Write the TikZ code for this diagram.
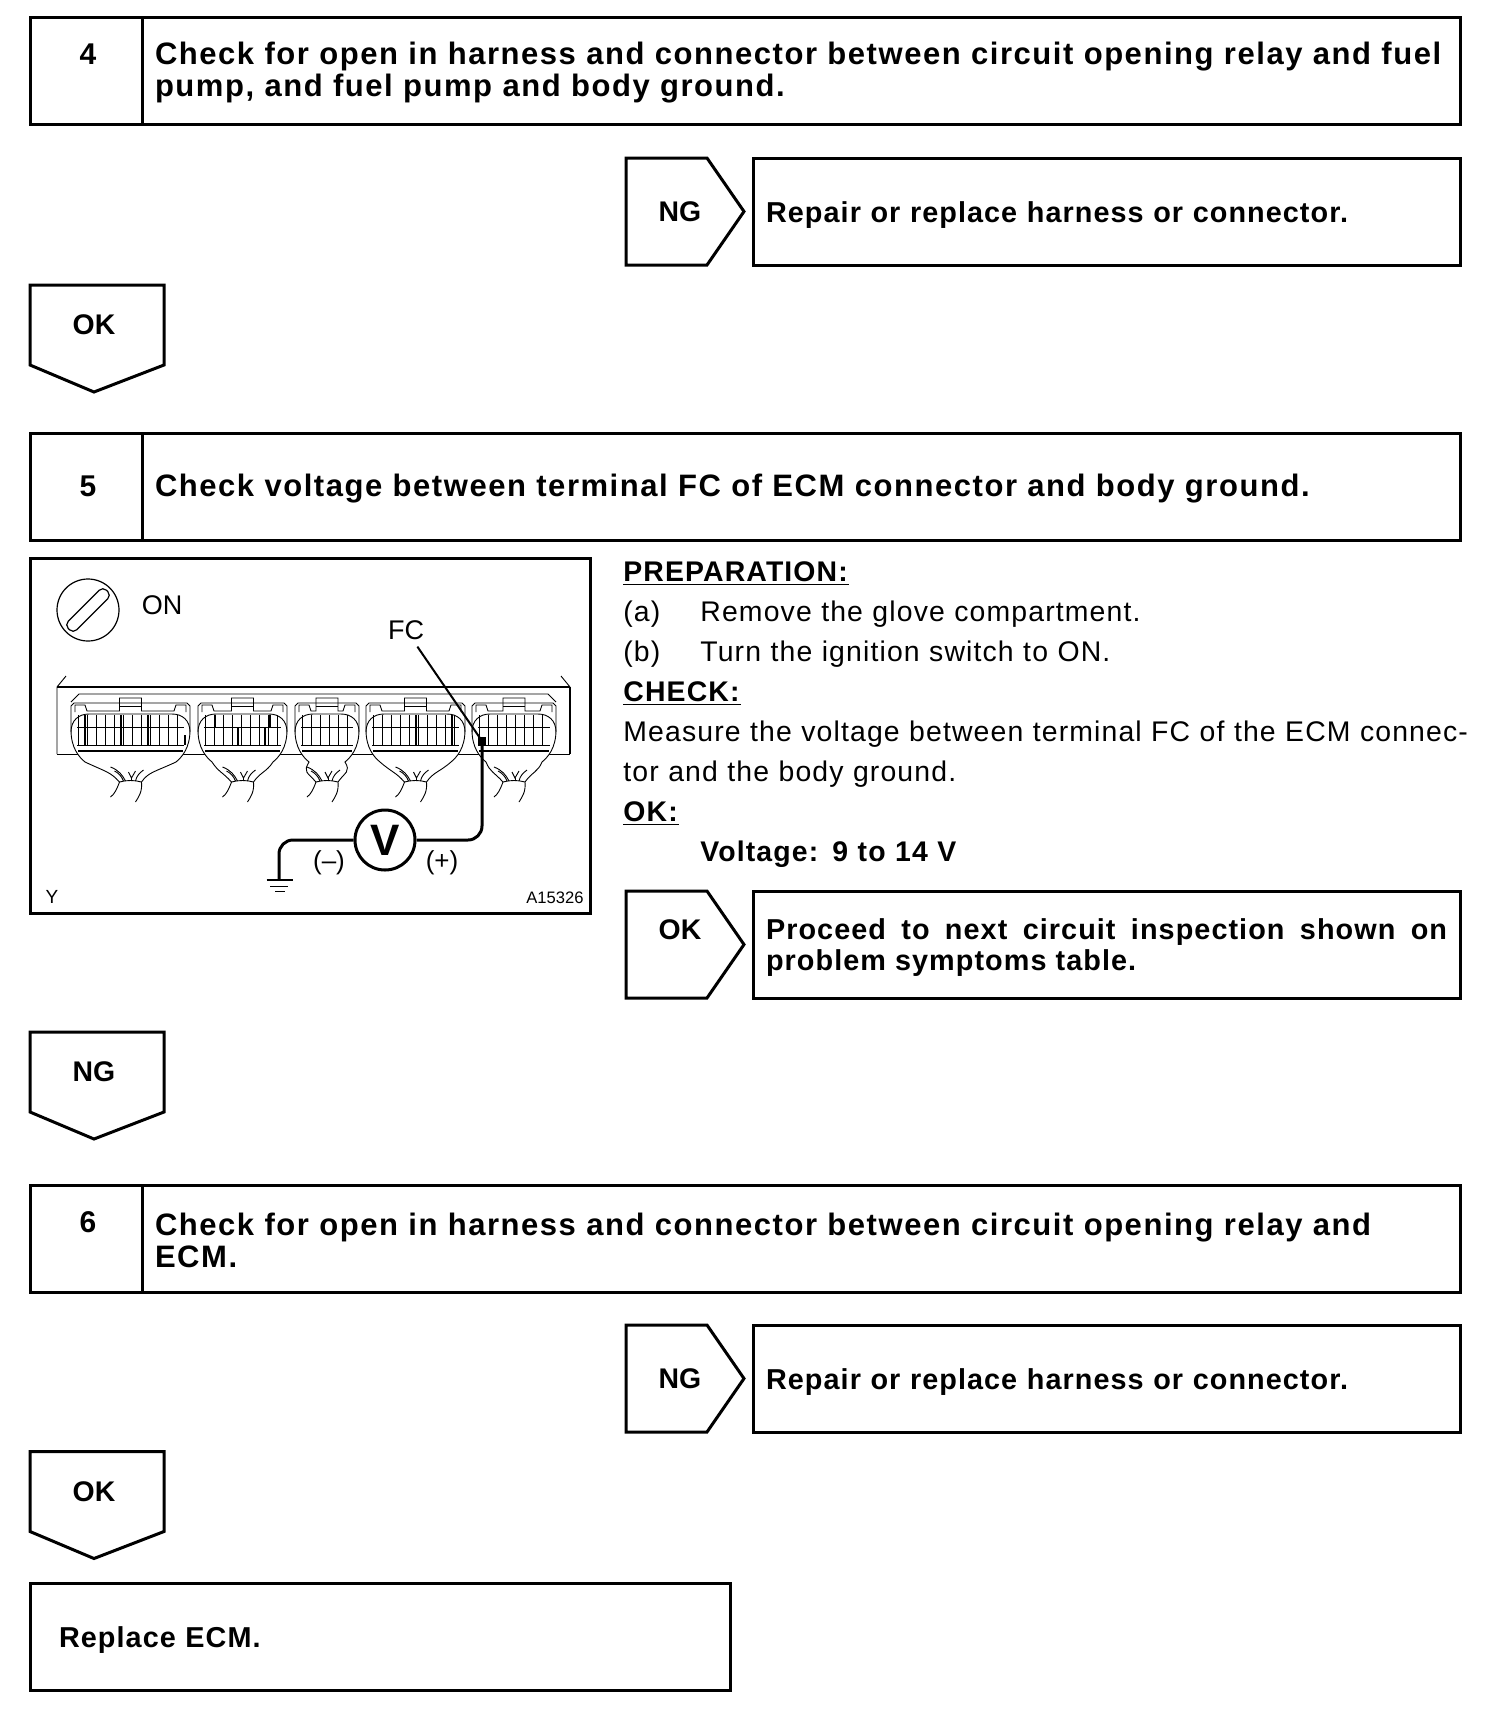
\documentclass[tikz,border=0pt]{standalone}
\usepackage{fontspec}
\setmainfont{Liberation Sans}
\newfontfamily\titlefont[LetterSpace=5.0]{Liberation Sans}
\newfontfamily\resultfont[LetterSpace=3.7]{Liberation Sans}
\newfontfamily\prepfont[LetterSpace=4.0]{Liberation Sans}
\usetikzlibrary{positioning}

\newcommand{\tagright}[1]{\draw[tagline] (#1.north west) -- ([xshift=-13.5pt]#1.north east) -- ([xshift=5pt]#1.east) -- ([xshift=-13.5pt]#1.south east) -- (#1.south west) -- cycle;}
\newcommand{\tagdown}[1]{\draw[tagline] (#1.north west) -- ([xshift=3pt]#1.north east) -- ([xshift=3pt]#1.south east) -- ([yshift=-13.5pt]#1.south) -- (#1.south west) -- cycle;}

\begin{document}
\begin{tikzpicture}[
  x=0.5pt, y=-0.5pt,
  numbox/.style={
    rectangle, draw, line width=1.5pt, minimum width=56pt, minimum height=53.5pt,
    inner sep=0pt, outer sep=0pt, align=center, font=\fontsize{15}{16}\selectfont\bfseries
  },
  titlebox/.style={
    rectangle, draw, line width=1.5pt, minimum width=659pt, minimum height=53.5pt,
    inner xsep=6.5pt, inner ysep=0pt, outer sep=0pt, text width=646pt, align=left,
    font=\titlefont\fontsize{15.5}{16}\selectfont\bfseries,
    execute at begin node={\vskip -2.4pt}
  },
  resultbox/.style={
    rectangle, draw, line width=1.5pt, minimum width=353.5pt, minimum height=53.5pt,
    inner xsep=6.5pt, inner ysep=0pt, outer sep=0pt, text width=340.5pt, align=left,
    font=\resultfont\fontsize{14.4}{15.4}\selectfont\bfseries,
    execute at begin node={\vskip -1.9pt}
  },
  sidetag/.style={
    rectangle, minimum width=54pt, minimum height=53.5pt, inner sep=0pt, outer sep=0pt,
    align=center, font=\fontsize{14.2}{15.4}\selectfont\bfseries
  },
  downtag/.style={
    rectangle, minimum width=64pt, minimum height=40pt, inner sep=0pt, outer sep=0pt,
    align=center, font=\fontsize{14.2}{15.4}\selectfont\bfseries
  },
  tagline/.style={line width=1.5pt, line join=miter},
  plugline/.style={line width=0.45pt},
  plugbold/.style={line width=1.2pt},
  wire/.style={line width=1.5pt, rounded corners=7pt},
]
  \useasboundingbox (0,0) rectangle (1504,1714);

  % Step 4
  \node[numbox, anchor=north west] (num4) at (30,17) {\hspace*{2pt}4\\~};
  \node[titlebox, right=0pt of num4] (title4) {Check for open in harness and connector between circuit opening relay and fuel\\pump, and fuel pump and body ground.};
  \node[resultbox, below left=17pt and 0pt of title4.south east] (res4) {Repair or replace harness or connector.};
  \node[sidetag, left=9.5pt of res4] (ng4) {NG};
  \node[downtag, below right=80.5pt and 0pt of num4.south west] (ok4) {OK};

  % Step 5
  \node[numbox, below right=34pt and 0pt of ok4.south west, minimum width=56pt] (num5) {\hspace*{2pt}5};
  \node[titlebox, right=0pt of num5] (title5) {Check voltage between terminal FC of ECM connector and body ground.};
  \node[rectangle, draw, line width=1.5pt, minimum width=280pt, minimum height=177.5pt, outer sep=0pt,
    below right=9pt and 0pt of num5.south west] (panel) {};
  \node[rectangle, inner sep=0pt, text width=430pt, align=left, font=\prepfont\fontsize{14.2}{20}\selectfont,
    below right=1.5pt and 16.5pt of panel.north east] (prep) {%
    \underline{\textbf{PREPARATION:}}\\
    \makebox[38.5pt][l]{(a)}Remove the glove compartment.\\
    \makebox[38.5pt][l]{(b)}Turn the ignition switch to ON.\\
    \underline{\textbf{CHECK:}}\\
    Measure the voltage between terminal FC of the ECM connec-\\
    tor and the body ground.\\
    \underline{\textbf{OK:}}\\
    \hspace*{38.5pt}\textbf{Voltage: 9 to 14 V}};
  \node[resultbox, below left=175.5pt and 0pt of title5.south east, align=justify] (res5) {Proceed to next circuit inspection shown on \mbox{problem} symptoms table.};
  \node[sidetag, left=9.5pt of res5] (ok5) {OK\\~};
  \node[downtag, below right=59.5pt and 0pt of panel.south west] (ng5) {NG};

  % Step 6
  \node[numbox, below right=36.5pt and 0pt of ng5.south west] (num6) {\hspace*{2pt}6\\~};
  \node[titlebox, right=0pt of num6] (title6) {Check for open in harness and connector between circuit opening relay and\\ECM.};
  \node[resultbox, below left=16.5pt and 0pt of title6.south east] (res6) {Repair or replace harness or connector.};
  \node[sidetag, left=9.5pt of res6] (ng6) {NG};
  \node[downtag, below right=79.75pt and 0pt of num6.south west] (ok6) {OK};
  \node[rectangle, draw, line width=1.5pt, minimum width=350pt, minimum height=53.5pt, inner xsep=14.5pt,
    outer sep=0pt, text width=321pt, align=left, font=\resultfont\fontsize{14.4}{15.4}\selectfont\bfseries,
    execute at begin node={\vskip -1.9pt},
    below right=25.75pt and 0pt of ok6.south west] (ecm) {Replace ECM.};

  % Tags
  \tagright{ng4}
  \tagright{ok5}
  \tagright{ng6}
  \tagdown{ok4}
  \tagdown{ng5}
  \tagdown{ok6}

  % Ignition switch
  \node[circle, draw, line width=0.6pt, minimum size=31pt, inner sep=0pt] (switch) at (88,610) {};
  \node[rectangle, draw, line width=0.6pt, rounded corners=2.5pt, rotate=45, minimum width=27pt, minimum height=6pt, inner sep=0pt] (slot) at (88,610) {};
  \node[font=\fontsize{13.5}{14}\selectfont] (on) at (162,605) {ON};

  % ECM housing
  \draw[plugline] (57,754) -- (57,687) -- (66,676);
  \draw[plugbold] (57,687) -- (570,687);
  \draw[plugbold] (570,754) -- (570,687);
  \draw[plugline] (570,687) -- (561,676);
  \draw[plugline] (57,754) -- (570,754);
  \draw[plugline] (71,702) -- (79,694) -- (548,694) -- (556,702);

  % Connectors
  \foreach \xl/\xr in {71/190, 198/287, 295/359, 366/465, 472/556} {
    \pgfmathsetmacro{\cx}{(\xl+\xr)/2}
    \pgfmathtruncatemacro{\ncol}{(\xr-\xl-14)/9}
    \draw[plugline, fill=white] (\xl,730) -- (\xl,706) -- ({\xl+3},703) -- ({\xr-3},703) -- (\xr,706) -- (\xr,730)
      .. controls (\xr,748) and ({\xr-8},757) .. ({\xr-14},762)
      .. controls ({\cx+24},772) and ({\cx+18},772) .. ({\cx+11},782)
      .. controls ({\cx+4},780) and ({\cx-4},780) .. ({\cx-11},782)
      .. controls ({\cx-20},772) and ({\cx-24},772) .. ({\xl+14},762)
      .. controls ({\xl+8},757) and (\xl,748) .. (\xl,730) -- cycle;
    \draw[plugline] (\xl,732) .. controls (\xl,720) and ({\xl+8},714) .. ({\xl+18},714) -- ({\xr-18},714) .. controls ({\xr-8},714) and (\xr,720) .. (\xr,732);
    \draw[plugline] ({\xl+4},712) -- ({\xl+4},705) -- ({\xl+14},705) -- ({\xl+16},711) -- ({\cx-11},711) -- ({\cx-11},698) -- ({\cx+11},698) -- ({\cx+11},711) -- ({\xr-16},711) -- ({\xr-14},705) -- ({\xr-4},705) -- ({\xr-4},712);
    \draw[plugline] ({\cx-11},706) -- ({\cx+11},706);
    % terminal grid
    \foreach \col in {0,...,\ncol} {
      \draw[plugline] ({\xl+7+9*\col},715) -- ({\xl+7+9*\col},745);
    }
    \draw[plugline] ({\xl+6},727) -- ({\xr-6},727);
    \draw[plugline] ({\xl+6},745) -- ({\xr-6},745);
    \draw[plugbold] ({\xl+7},751) -- ({\xr-7},751);
    % loom
    \draw[plugline] ({\cx-11},782) .. controls ({\cx-14},790) and ({\cx-16},794) .. ({\cx-20},797);
    \draw[plugline] ({\cx+11},782) .. controls ({\cx+12},792) and ({\cx+8},797) .. ({\cx+5},802);
    \draw[plugline] ({\cx-20},767) .. controls ({\cx-12},770) and ({\cx-8},775) .. ({\cx-5},781);
    \draw[plugline] ({\cx-16},771) .. controls ({\cx-12},773) and ({\cx-9},776) .. ({\cx-7},781);
    \draw[plugline] ({\cx-2},772) -- ({\cx+1},778) -- ({\cx+5},771);
    \draw[plugline] ({\cx+1},778) -- ({\cx+1},781);
    \draw[plugline] ({\cx+13},770) .. controls ({\cx+9},773) and ({\cx+6},776) .. ({\cx+5},781);
  }
  \foreach \bx/\by/\bz in {85/715/745, 121/715/745, 148/715/745, 185/735/745, 215/715/727, 238/727/745, 265/727/745, 270/715/727, 416/715/745, 452/715/745} {
    \draw[plugbold] (\bx,\by) -- (\bx,\bz);
  }

  % Meter
  \coordinate (fcpin) at (482,741);
  \coordinate (gnd) at (279,880);
  \node[circle, draw, line width=1.5pt, minimum size=30pt, inner sep=0pt, font=\fontsize{22}{22}\selectfont\bfseries] (meter) at (385,840) {V};
  \draw[wire] (meter) -| (fcpin);
  \draw[wire] (meter) -| (gnd);
  \node[fill, rectangle, minimum size=4pt, inner sep=0pt] (fcdot) at (fcpin) {};
  \node[font=\fontsize{13.5}{14}\selectfont] (fc) at (406,630) {FC};
  \draw[line width=1pt] (fc) -- (fcpin);
  \node[minimum width=13pt, minimum height=0pt, inner sep=0pt] (gnda) at (280,880) {};
  \draw[line width=0.9pt] (gnda.west) -- (gnda.east);
  \coordinate (gndb) at (279,886);
  \draw[line width=0.5pt] ([xshift=-4.5pt]gndb) -- ([xshift=4.5pt]gndb);
  \coordinate (gndc) at (280,891);
  \draw[line width=0.5pt] ([xshift=-2.5pt]gndc) -- ([xshift=2.5pt]gndc);
  \node[font=\fontsize{13}{13}\selectfont] (minus) at (329,863) {(–)};
  \node[font=\fontsize{13}{13}\selectfont] (plus) at (442,863) {(+)};
  \node[font=\fontsize{9.5}{10}\selectfont] (ycode) at (52,897) {Y};
  \node[font=\fontsize{8.3}{9}\selectfont] (acode) at (555,898) {A15326};
\end{tikzpicture}
\end{document}
